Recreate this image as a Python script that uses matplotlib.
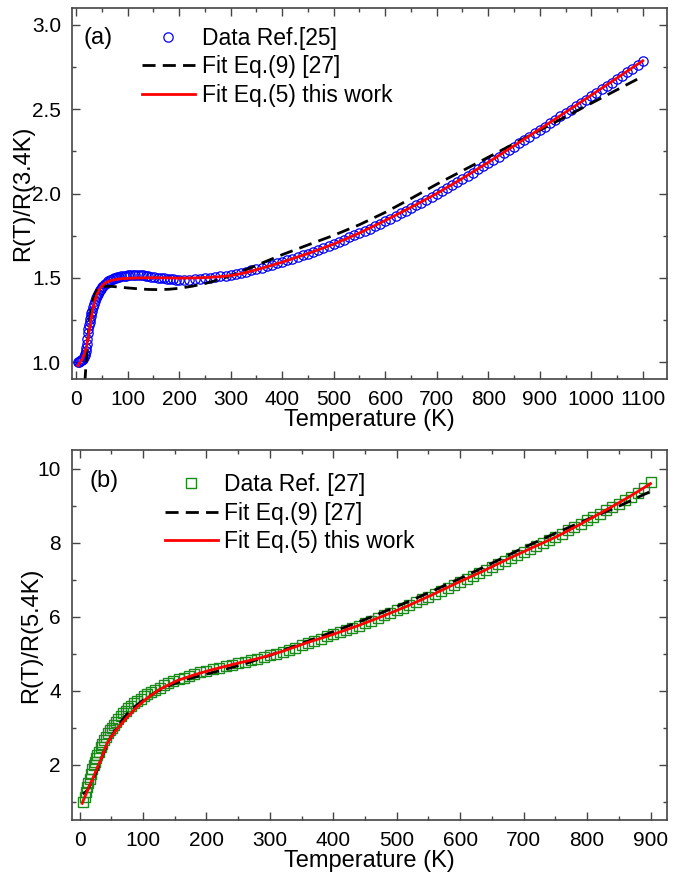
import matplotlib
matplotlib.use("Agg")
import matplotlib.pyplot as plt
from matplotlib.ticker import MultipleLocator, FormatStrFormatter

# ==== DATA ==================================================

# panel (a): data Ref.[25]
Ta = [3.4, 5, 7, 9, 11, 13, 15, 17, 18, 19, 20, 21, 22, 23, 24, 25, 26, 27, 28, 29,
      30, 32, 34, 36, 38, 40, 42, 44, 46, 48, 50, 53, 56, 59, 62, 65, 68, 71, 74, 77,
      80, 84, 88, 92, 96, 100, 105, 110, 115, 120, 125, 130, 135, 140, 146, 152, 158,
      164, 170, 176, 182, 188, 194,
      200, 210, 220, 230, 240, 250, 260, 270, 280, 290, 300, 310, 320, 330, 340, 350,
      360, 370, 380, 390, 400, 410, 420, 430, 440, 450, 460, 470, 480, 490, 500, 510,
      520, 530, 540, 550, 560, 570, 580, 590, 600, 610, 620, 630, 640, 650, 660, 670,
      680, 690, 700, 710, 720, 730, 740, 750, 760, 770, 780, 790, 800, 810, 820, 830,
      840, 850, 860, 870, 880, 890, 900, 910, 920, 930, 940, 950, 960, 970, 980, 990,
      1000, 1010, 1020, 1030, 1040, 1050, 1060, 1070, 1080, 1090, 1100]
Ra = [1.000, 1.003, 1.006, 1.010, 1.015, 1.020, 1.030, 1.040, 1.050, 1.065, 1.085,
      1.110, 1.140, 1.170, 1.195, 1.220, 1.240, 1.258, 1.275, 1.290, 1.303, 1.325,
      1.345, 1.362, 1.378, 1.392, 1.405, 1.416, 1.426, 1.435, 1.443, 1.454, 1.464,
      1.472, 1.479, 1.485, 1.490, 1.494, 1.498, 1.501, 1.504, 1.507, 1.509, 1.511,
      1.513, 1.514, 1.515, 1.516, 1.516, 1.516, 1.515, 1.514, 1.512, 1.510, 1.507,
      1.504, 1.501, 1.498, 1.496, 1.494, 1.492, 1.491, 1.490,
      1.490, 1.490, 1.490, 1.492, 1.494, 1.497, 1.500, 1.504, 1.508, 1.513, 1.518,
      1.524, 1.530, 1.537, 1.545, 1.553, 1.561, 1.569, 1.578, 1.587, 1.596, 1.605,
      1.614, 1.624, 1.634, 1.644, 1.655, 1.666, 1.678, 1.690, 1.702, 1.715, 1.727,
      1.740, 1.752, 1.765, 1.778, 1.792, 1.806, 1.820, 1.835, 1.850, 1.866, 1.882,
      1.898, 1.914, 1.930, 1.946, 1.963, 1.980, 1.998, 2.016, 2.034, 2.052, 2.070,
      2.088, 2.106, 2.124, 2.143, 2.162, 2.181, 2.200, 2.219, 2.238, 2.257, 2.277,
      2.297, 2.317, 2.337, 2.357, 2.377, 2.397, 2.417, 2.437, 2.457, 2.477, 2.497,
      2.517, 2.537, 2.557, 2.577, 2.598, 2.618, 2.638, 2.658, 2.678, 2.698, 2.718,
      2.738, 2.760, 2.785]

# panel (a): Fit Eq.(9) [27]
Tda = [17, 18, 19, 20, 22, 24, 26, 28, 30, 33, 36, 40, 45, 50, 60, 70, 80, 100, 120,
       140, 160, 180, 200, 225, 250, 275, 300, 350, 400, 450, 500, 550, 600, 650, 700,
       750, 800, 850, 900, 950, 1000, 1050, 1100]
Rda = [0.88, 0.93, 0.98, 1.03, 1.11, 1.18, 1.24, 1.29, 1.33, 1.37, 1.40, 1.425, 1.44,
       1.447, 1.45, 1.449, 1.446, 1.440, 1.435, 1.431, 1.430, 1.432, 1.438, 1.450,
       1.466, 1.487, 1.513, 1.574, 1.637, 1.695, 1.752, 1.815, 1.888, 1.970, 2.055,
       2.135, 2.215, 2.295, 2.375, 2.455, 2.535, 2.615, 2.695]

# panel (a): Fit Eq.(5) this work
Tfa = [3.4, 8, 12, 16, 20, 24, 28, 32, 36, 40, 45, 50, 55, 60, 70, 80, 90, 100, 120,
       140, 160, 180, 200, 225, 250, 275, 300, 325, 350, 375, 400, 450, 500, 550, 600,
       650, 700, 750, 800, 850, 900, 950, 1000, 1050, 1100]
Rfa = [0.98, 1.00, 1.02, 1.05, 1.09, 1.16, 1.24, 1.31, 1.36, 1.40, 1.43, 1.452, 1.466,
       1.476, 1.486, 1.492, 1.495, 1.497, 1.499, 1.500, 1.500, 1.499, 1.498, 1.499,
       1.501, 1.506, 1.513, 1.528, 1.548, 1.570, 1.593, 1.644, 1.700, 1.766, 1.840,
       1.918, 2.000, 2.090, 2.185, 2.283, 2.382, 2.482, 2.583, 2.685, 2.787]

# panel (b): data Ref. [27]
Tb = [5.4, 8, 10, 12, 14, 16, 18, 20, 22, 24, 26, 28, 30, 33, 36, 39, 42, 45, 48, 51,
      54, 57, 61, 65, 69, 73, 77, 81, 86, 91, 96, 101, 107, 113, 119, 126, 133, 140,
      148, 156, 164, 172, 180, 190, 200, 210, 220, 230, 240, 250, 260, 270, 280, 290,
      300, 310, 320, 330, 340, 350, 360, 370, 380, 390, 400, 410, 420, 430, 440, 450,
      460, 470, 480, 490, 500, 510, 520, 530, 540, 550, 560, 570, 580, 590, 600, 610,
      620, 630, 640, 650, 660, 670, 680, 690, 700, 710, 720, 730, 740, 750, 760, 770,
      780, 790, 800, 810, 820, 830, 840, 850, 860, 870, 880, 890, 900]
Rb = [1.00, 1.12, 1.25, 1.38, 1.50, 1.62, 1.75, 1.87, 1.98, 2.08, 2.18, 2.27, 2.35,
      2.46, 2.56, 2.66, 2.75, 2.84, 2.92, 3.00, 3.07, 3.14, 3.22, 3.30, 3.38, 3.45,
      3.52, 3.58, 3.65, 3.72, 3.78, 3.84, 3.90, 3.96, 4.02, 4.08, 4.14, 4.19, 4.25,
      4.30, 4.35, 4.40, 4.44, 4.49, 4.54, 4.58, 4.62, 4.66, 4.70, 4.74, 4.78, 4.82,
      4.86, 4.90, 4.95, 5.00, 5.05, 5.10, 5.16, 5.22, 5.28, 5.34, 5.40, 5.46, 5.52,
      5.58, 5.63, 5.69, 5.75, 5.82, 5.88, 5.95, 6.03, 6.10, 6.17, 6.24, 6.31, 6.39,
      6.46, 6.54, 6.62, 6.70, 6.78, 6.86, 6.94, 7.02, 7.10, 7.18, 7.26, 7.34, 7.42,
      7.50, 7.58, 7.66, 7.74, 7.82, 7.90, 7.98, 8.06, 8.15, 8.24, 8.33, 8.42, 8.51,
      8.60, 8.69, 8.78, 8.87, 8.96, 9.05, 9.14, 9.24, 9.35, 9.48, 9.63]

# panel (b): Fit Eq.(9) [27]
Tdb = [5, 8, 12, 16, 20, 24, 28, 34, 41, 48, 55, 67, 80, 101, 120, 143, 170, 206, 235,
       264, 300, 350, 400, 450, 500, 550, 600, 650, 700, 750, 800, 850, 900]
Rdb = [1.20, 1.24, 1.30, 1.42, 1.56, 1.71, 1.87, 2.15, 2.45, 2.70, 2.90, 3.20, 3.47,
       3.75, 3.96, 4.15, 4.31, 4.47, 4.60, 4.74, 4.95, 5.27, 5.59, 5.92, 6.27, 6.64,
       7.03, 7.44, 7.86, 8.25, 8.62, 8.98, 9.38]

# panel (b): Fit Eq.(5) this work
Tfb = [4, 7, 10, 13, 16, 19, 22, 26, 30, 35, 43, 50, 60, 75, 90, 106, 125, 154, 180,
       206, 245, 285, 320, 358, 400, 437, 475, 515, 555, 594, 635, 672, 711, 751, 790,
       829, 865, 900]
Rfb = [0.95, 1.08, 1.20, 1.33, 1.45, 1.56, 1.67, 1.84, 2.00, 2.20, 2.56, 2.76, 2.98,
       3.28, 3.55, 3.79, 4.02, 4.27, 4.42, 4.55, 4.72, 4.88, 5.06, 5.29, 5.52, 5.74,
       5.99, 6.27, 6.58, 6.90, 7.22, 7.53, 7.84, 8.15, 8.50, 8.87, 9.22, 9.59]

# ============================================================

plt.rcParams["font.family"] = ["Liberation Sans", "DejaVu Sans"]
spine_col = "#444444"
dash = (4.7, 2.6)

fig = plt.figure(figsize=(6.9, 8.77), dpi=100)
W, H = 690, 877
ax1 = fig.add_axes([72 / W, 1 - 379 / H, 595 / W, 371 / H])
ax2 = fig.add_axes([72 / W, 1 - 820 / H, 595 / W, 370 / H])

ax1.plot(Ta, Ra, "o", ms=6.7, mfc="none", mec="#0000ff", mew=0.9, label="Data Ref.[25]")
ax1.plot(Tda, Rda, color="black", lw=2.0, dashes=dash, label="Fit Eq.(9) [27]")
ax1.plot(Tfa, Rfa, color="#ff0000", lw=2.0, label="Fit Eq.(5) this work")

ax2.plot(Tb, Rb, "s", ms=7.2, mfc="none", mec="#1a8a1a", mew=1.0, label="Data Ref. [27]")
ax2.plot(Tdb, Rdb, color="black", lw=2.0, dashes=dash, label="Fit Eq.(9) [27]")
ax2.plot(Tfb, Rfb, color="#ff0000", lw=2.0, label="Fit Eq.(5) this work")

ax1.set_xlim(-8, 1147)
ax1.set_ylim(0.9, 3.1)
ax1.xaxis.set_major_locator(MultipleLocator(100))
ax1.xaxis.set_minor_locator(MultipleLocator(50))
ax1.yaxis.set_major_locator(MultipleLocator(0.5))
ax1.yaxis.set_minor_locator(MultipleLocator(0.25))
ax1.yaxis.set_major_formatter(FormatStrFormatter("%.1f"))
ax1.set_ylabel("R(T)/R(3.4K)", fontsize=17, labelpad=-1.5)

ax2.set_xlim(-12, 926)
ax2.set_ylim(0.5, 10.5)
ax2.xaxis.set_major_locator(MultipleLocator(100))
ax2.xaxis.set_minor_locator(MultipleLocator(50))
ax2.yaxis.set_major_locator(MultipleLocator(2))
ax2.yaxis.set_minor_locator(MultipleLocator(1))
ax2.set_ylabel("R(T)/R(5.4K)", fontsize=17, labelpad=-3)

for ax in (ax1, ax2):
    ax.set_xlabel("Temperature (K)", fontsize=17, labelpad=0)
    ax.tick_params(which="both", direction="in", top=True, right=True,
                   colors=spine_col, labelcolor="black", labelsize=15)
    ax.tick_params(which="major", length=6, width=1.0, pad=8)
    ax.tick_params(which="minor", length=3, width=1.0)
    for s in ax.spines.values():
        s.set_color(spine_col)
        s.set_linewidth(1.2)

ax1.text(0.0185, 0.919, "(a)", transform=ax1.transAxes, fontsize=17, va="center")
ax2.text(0.030, 0.916, "(b)", transform=ax2.transAxes, fontsize=17, va="center")

leg_kw = dict(frameon=False, fontsize=16.5, handlelength=2.3, handletextpad=0.3,
              labelspacing=0.25, borderpad=0, borderaxespad=0, loc="upper left")
ax1.legend(bbox_to_anchor=(0.1176, 0.950), **leg_kw)
ax2.legend(bbox_to_anchor=(0.156, 0.938), **leg_kw)

fig.savefig("out.png", dpi=100)
